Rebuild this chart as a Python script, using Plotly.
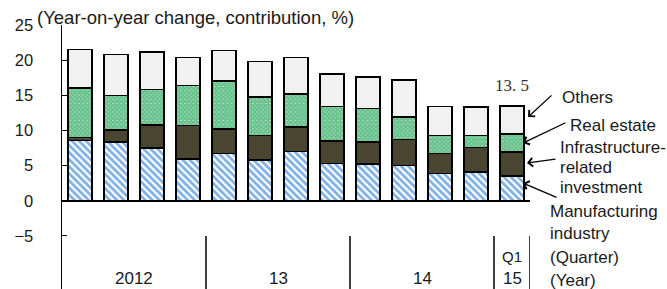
import plotly.graph_objects as go

# ---- data ----
quarters = ["2012Q1", "2012Q2", "2012Q3", "2012Q4",
            "2013Q1", "2013Q2", "2013Q3", "2013Q4",
            "2014Q1", "2014Q2", "2014Q3", "2014Q4",
            "2015Q1"]
manufacturing = [8.6, 8.4, 7.5, 5.9, 6.7, 5.8, 7.0, 5.3, 5.2, 5.0, 3.9, 4.1, 3.5]
infrastructure = [0.4, 1.7, 3.3, 4.8, 3.5, 3.5, 3.5, 3.2, 3.2, 3.7, 2.8, 3.5, 3.4]
real_estate = [7.0, 4.9, 5.0, 5.7, 6.8, 5.5, 4.7, 4.9, 4.7, 3.2, 2.6, 1.7, 2.6]
others = [5.5, 5.8, 5.4, 4.0, 4.4, 5.0, 5.2, 4.6, 4.5, 5.3, 4.1, 4.0, 4.0]
last_total_label = "13. 5"
year_labels = ["2012", "13", "14", "15"]
year_centers = [1.5, 5.5, 9.5, 12]
year_separators = [3.5, 7.5, 11.5, 12.5]
y_ticks = [-5, 0, 5, 10, 15, 20, 25]
y_range = [-12.55, 25]

# ---- layout geometry (pixels) ----
W, H = 667, 289
L, R, T, B = 62, 530, 25, 289
def px(xp):
    return (xp - L) / (R - L)
def py(yp):
    return (B - yp) / (B - T)

FONT = "Liberation Sans, Arial, sans-serif"
TXT = "#1a1a1a"

fig = go.Figure()
common = dict(width=0.67, marker_line_color="black", marker_line_width=1.6)
fig.add_bar(x=quarters, y=manufacturing, name="Manufacturing industry",
            marker=dict(color="white",
                        pattern=dict(shape="\\", fgcolor="#0063cc", bgcolor="white",
                                     size=5, solidity=0.55, fillmode="overlay")),
            **common)
fig.add_bar(x=quarters, y=infrastructure, name="Infrastructure-related investment",
            marker=dict(color="#4a4530"), **common)
fig.add_bar(x=quarters, y=real_estate, name="Real estate",
            marker=dict(color="white",
                        pattern=dict(shape="x", fgcolor="#06963f", bgcolor="#cdeeda",
                                     size=3, solidity=0.9, fillmode="overlay")),
            **common)
fig.add_bar(x=quarters, y=others, name="Others",
            marker=dict(color="#f1f1f1"), **common)

fig.update_layout(
    barmode="stack", width=W, height=H, showlegend=False,
    margin=dict(l=L, r=W - R, t=T, b=H - B, pad=0),
    paper_bgcolor="white", plot_bgcolor="white",
    font=dict(family=FONT, size=16, color=TXT),
    bargap=0.33,
)
fig.update_xaxes(showticklabels=False, showgrid=False, showline=False, ticks="",
                 zeroline=False, range=[-0.5, 12.5])
fig.update_yaxes(range=y_range, tickvals=y_ticks,
                 ticktext=[("\u2212" + str(-v)) if v < 0 else str(v) for v in y_ticks],
                 ticks="inside", ticklen=5, tickcolor="black", tickwidth=1,
                 showline=True, linecolor="black", linewidth=1.5,
                 showgrid=False, zeroline=True, zerolinecolor="black", zerolinewidth=2,
                 ticklabelstandoff=24, tickfont=dict(size=16.5, color=TXT))

# separators below axis
for s in year_separators:
    fig.add_shape(type="line", xref="x", yref="y", x0=s, x1=s, y0=-5, y1=y_range[0],
                  line=dict(color="black", width=1.5))

# year labels
for lab, c in zip(year_labels, year_centers):
    fig.add_annotation(x=c, y=py(278), xref="x", yref="paper", text=lab,
                       showarrow=False, font=dict(size=17, color=TXT), yanchor="middle")
fig.add_annotation(x=12, y=py(256), xref="x", yref="paper", text="Q1",
                   showarrow=False, font=dict(size=15, color=TXT), yanchor="middle")

# title
fig.add_annotation(x=px(35), y=py(18), xref="paper", yref="paper",
                   text="(Year-on-year change, contribution, %)", showarrow=False,
                   xanchor="left", yanchor="middle", font=dict(size=18.5, color=TXT))

# total label for last bar
total_last = manufacturing[-1] + infrastructure[-1] + real_estate[-1] + others[-1]
fig.add_annotation(x=quarters[-1], y=total_last, xref="x", yref="y", yshift=20,
                   text=last_total_label, showarrow=False,
                   font=dict(family="Liberation Serif, DejaVu Serif, serif", size=17, color="#333"))

# right side labels
labels = [("Others", 560, 97), ("Real estate", 568, 125),
          ("Infrastructure-", 558, 147), ("related", 558, 167), ("investment", 558, 187),
          ("Manufacturing", 548, 212), ("industry", 548, 233),
          ("(Quarter)", 548, 257), ("(Year)", 548, 280)]
for t, xl, yc in labels:
    fig.add_annotation(x=px(xl), y=py(yc), xref="paper", yref="paper", text=t,
                       showarrow=False, xanchor="left", yanchor="middle",
                       font=dict(size=17, color=TXT))

# arrows (head, tail) in pixels
arrows = [((528, 117), (553, 94)), ((523, 143), (567, 122)),
          ((527, 163), (557, 159)), ((523, 183), (558, 198))]
for (hx, hy), (tx, ty) in arrows:
    fig.add_annotation(x=px(hx), y=py(hy), xref="paper", yref="paper", text="",
                       showarrow=True, ax=tx - hx, ay=ty - hy, arrowhead=4,
                       arrowsize=1.3, arrowwidth=1.3, arrowcolor="black", standoff=0)

fig.write_html("out.html", config={"displayModeBar": False, "staticPlot": True},
               post_script="document.body.style.margin='0';document.body.style.overflow='hidden';")
